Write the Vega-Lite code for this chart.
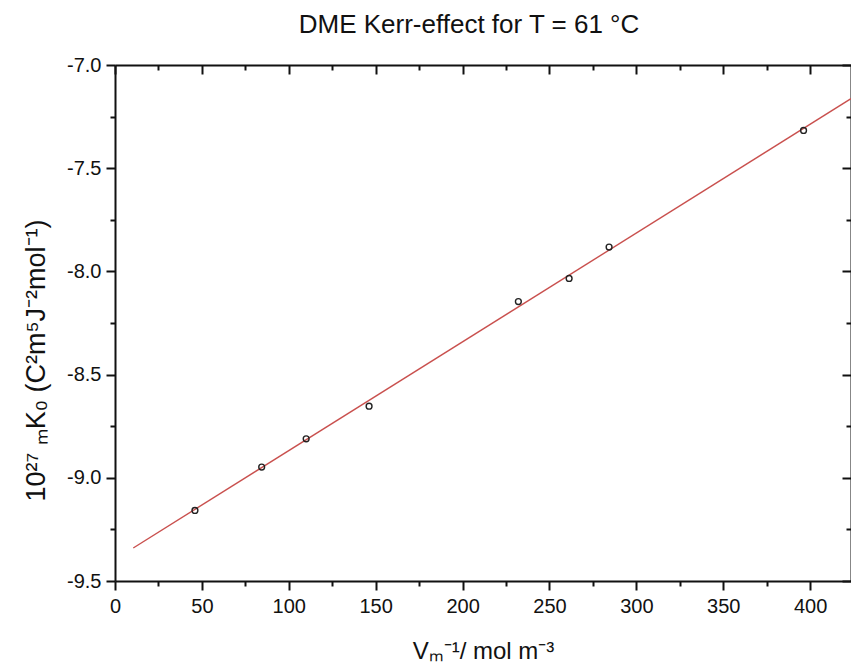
{
  "$schema": "https://vega.github.io/schema/vega-lite/v6.json",
  "autosize": {"type": "none"},
  "width": 736,
  "height": 516,
  "padding": {"left": 115, "top": 65, "right": 0, "bottom": 87},
  "background": "white",
  "title": {"text": "DME Kerr-effect for T = 61 °C", "font": "Liberation Sans", "fontSize": 26, "fontWeight": "normal", "color": "#111111", "anchor": "middle", "dx": -14, "offset": 17},
  "config": {
    "view": {"stroke": null},
    "axis": {
      "domainColor": "#111111", "domainWidth": 2, "tickColor": "#111111", "tickWidth": 2,
      "grid": false, "labelFont": "Liberation Sans", "labelFontSize": 20, "labelColor": "#111111",
      "titleFont": "Liberation Sans", "titleFontSize": 24, "titleFontWeight": "normal", "titleColor": "#111111",
      "labelOverlap": false, "labelBound": false, "labelFlush": false
    }
  },
  "datasets": {
    "points": [
      {"inv_vm": 46.0, "kmk0": -9.158},
      {"inv_vm": 84.4, "kmk0": -8.948},
      {"inv_vm": 110.0, "kmk0": -8.811},
      {"inv_vm": 146.2, "kmk0": -8.653},
      {"inv_vm": 232.1, "kmk0": -8.146},
      {"inv_vm": 261.3, "kmk0": -8.034},
      {"inv_vm": 284.3, "kmk0": -7.882},
      {"inv_vm": 396.2, "kmk0": -7.317}
    ],
    "fit": [
      {"inv_vm": 10.5, "kmk0": -9.34},
      {"inv_vm": 423.5, "kmk0": -7.163}
    ]
  },
  "resolve": {"axis": {"x": "independent", "y": "independent"}},
  "layer": [
    {
      "data": {"name": "fit"},
      "mark": {"type": "line", "color": "#c9504e", "strokeWidth": 1.4, "clip": true},
      "encoding": {
        "x": {"field": "inv_vm", "type": "quantitative", "scale": {"domain": [0, 423.5], "nice": false, "zero": false},
          "axis": {"orient": "top", "title": null, "labels": false, "values": [0,25,50,75,100,125,150,175,200,225,250,275,300,325,350,375,400],
            "tickSize": {"condition": {"test": "datum.value % 50 === 0", "value": -9}, "value": -5}}},
        "y": {"field": "kmk0", "type": "quantitative", "scale": {"domain": [-9.5, -7.0], "nice": false, "zero": false},
          "axis": {"orient": "right", "title": null, "labels": false, "values": [-9.5,-9.25,-9.0,-8.75,-8.5,-8.25,-8.0,-7.75,-7.5,-7.25,-7.0],
            "tickSize": {"condition": {"test": "abs(datum.value*2-round(datum.value*2))<0.001", "value": -9}, "value": -5}}}
      }
    },
    {
      "data": {"name": "points"},
      "mark": {"type": "point", "shape": "circle", "filled": false, "size": 34, "stroke": "#222222", "strokeWidth": 1.4, "opacity": 1},
      "encoding": {
        "x": {"field": "inv_vm", "type": "quantitative", "scale": {"domain": [0, 423.5], "nice": false, "zero": false},
          "axis": {"orient": "bottom", "title": "Vₘ⁻¹/ mol m⁻³", "titleBaseline": "alphabetic", "titleY": 77, "labelPadding": 6,
            "values": [0,25,50,75,100,125,150,175,200,225,250,275,300,325,350,375,400],
            "labelExpr": "datum.value % 50 === 0 ? datum.label : ''",
            "tickSize": {"condition": {"test": "datum.value % 50 === 0", "value": 9}, "value": 5}}},
        "y": {"field": "kmk0", "type": "quantitative", "scale": {"domain": [-9.5, -7.0], "nice": false, "zero": false},
          "axis": {"orient": "left", "title": "10²⁷ ₘK₀ (C²m⁵J⁻²mol⁻¹)", "titleFontSize": 27, "titleBaseline": "alphabetic", "titleX": -71, "titleY": 295, "labelPadding": 5,
            "values": [-9.5,-9.25,-9.0,-8.75,-8.5,-8.25,-8.0,-7.75,-7.5,-7.25,-7.0],
            "labelExpr": "abs(datum.value*2-round(datum.value*2))<0.001 ? replace(format(datum.value,'.1f'),'\u2212','-') : ''",
            "tickSize": {"condition": {"test": "abs(datum.value*2-round(datum.value*2))<0.001", "value": 9}, "value": 5}}}
      }
    }
  ]
}
